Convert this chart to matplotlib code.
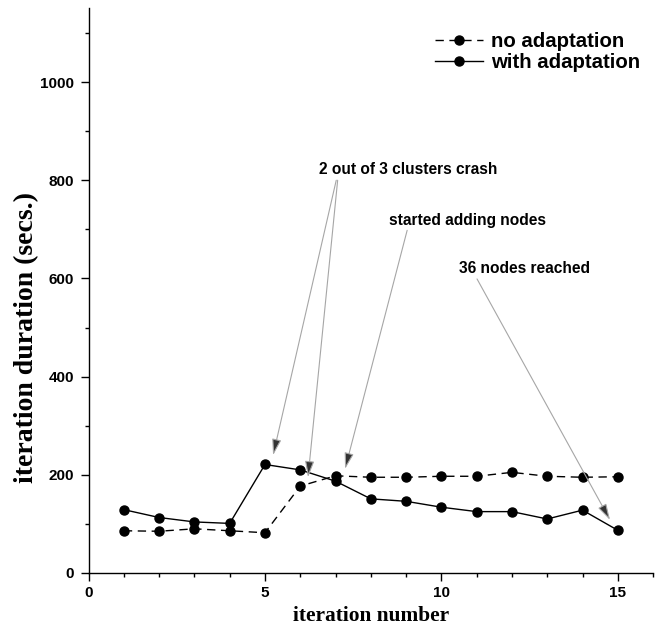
import numpy as np
import matplotlib
matplotlib.use("Agg")
import matplotlib.pyplot as plt
from matplotlib.ticker import MultipleLocator

# iteration index
iterations = np.arange(1, 16)

# iteration duration in seconds
no_adaptation = [86, 85, 90, 86, 82, 177, 198, 195, 195, 197, 197, 205, 197, 195, 196]
with_adaptation = [129, 113, 104, 101, 221, 210, 187, 151, 146, 134, 125, 125, 110, 128, 87]

series_labels = ["no adaptation", "with adaptation"]

# annotation texts (text position, arrow start, arrow tip) in data units
notes = ["2 out of 3 clusters crash", "started adding nodes", "36 nodes reached"]
note_pos = [(9.06, 821), (10.75, 719), (12.37, 621)]
arrows = [
    ((7.02, 800), (5.23, 240)),
    ((7.06, 800), (6.22, 195)),
    ((9.03, 698), (7.27, 212)),
    ((11.01, 599), (14.78, 108)),
]

sans = "Liberation Sans"
serif = "Liberation Serif"

fig = plt.figure(figsize=(6.61, 6.28), dpi=100)
ax = fig.add_axes([0.134, 0.0876, 0.854, 0.899])

ax.plot(iterations, no_adaptation, color="black", lw=1.0, dashes=(6, 4),
        marker="o", ms=6.5, label=series_labels[0])
ax.plot(iterations, with_adaptation, color="black", lw=1.0,
        marker="o", ms=6.5, label=series_labels[1])

for (x0, y0), (x1, y1) in arrows:
    ax.annotate("", xy=(x1, y1), xytext=(x0, y0),
                arrowprops=dict(arrowstyle="-|>,head_length=0.7,head_width=0.2",
                                ec="0.65", fc="0.2", lw=0.8,
                                shrinkA=0, shrinkB=0, mutation_scale=14))

for txt, (tx, ty) in zip(notes, note_pos):
    ax.text(tx, ty, txt, ha="center", va="center", fontsize=11.2,
            fontweight="bold", family=sans)

ax.set_xlim(0, 16)
ax.set_ylim(0, 1150)
ax.xaxis.set_major_locator(MultipleLocator(5))
ax.xaxis.set_minor_locator(MultipleLocator(1))
ax.yaxis.set_major_locator(MultipleLocator(200))
ax.yaxis.set_minor_locator(MultipleLocator(100))
ax.set_yticks([0, 200, 400, 600, 800, 1000])

for s in ["top", "right"]:
    ax.spines[s].set_visible(False)
for s in ["left", "bottom"]:
    ax.spines[s].set_linewidth(1.0)

ax.tick_params(which="major", direction="out", length=6, width=1.0)
ax.tick_params(axis="y", which="major", pad=4.5)
ax.tick_params(which="minor", direction="out", length=3, width=1.0)
for lab in ax.get_xticklabels() + ax.get_yticklabels():
    lab.set_fontfamily(sans)
    lab.set_fontweight("bold")
    lab.set_fontsize(11)

ax.set_xlabel("iteration number", family=serif, fontweight="bold",
              fontsize=15.4, labelpad=4.5)
ax.set_ylabel("iteration duration (secs.)", family=serif, fontweight="bold",
              fontsize=20)
ax.yaxis.set_label_coords(-0.088, 0.417)

leg = ax.legend(loc="upper left", bbox_to_anchor=(0.646, 0.962),
                bbox_transform=fig.transFigure, borderaxespad=0,
                frameon=False, handlelength=2.35, handletextpad=0.4,
                labelspacing=0.1,
                prop=dict(family=sans, weight="bold", size=14.7))

fig.savefig("out.png", dpi=100)
